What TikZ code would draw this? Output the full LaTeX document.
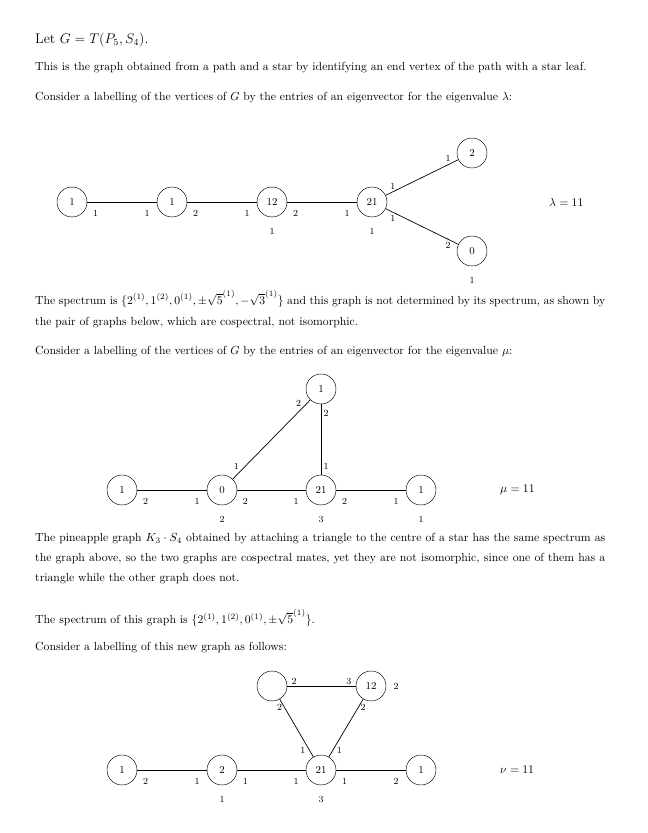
\documentclass[tikz,border=0pt]{standalone}
\usepackage{amsmath,amsfonts,amssymb}
\usepackage{tikz}
\usetikzlibrary{calc}
\tikzset{vertex/.style={circle,draw,minimum size=0.9cm,inner sep=0pt,font=\small}}
\tikzset{edge/.style={semithick, solid}}
\tikzset{elab/.style={font=\footnotesize,inner sep=1pt}}
\tikzset{every label/.style={font=\footnotesize}}
\tikzset{line/.style={anchor=west,inner sep=0pt}}
\tikzset{para/.style={anchor=north west,inner sep=0pt,text width=17.1cm,align=justify,
  execute at begin node={\setlength{\baselineskip}{#1}\setlength{\parindent}{0.6cm}}}}
\tikzset{para/.default=18pt}

\begin{document}
\begin{tikzpicture}[x=0.03cm,y=-0.03cm,label distance=2.2mm]
  \useasboundingbox (0,0) rectangle (648,833);

  \node (title) at (35,40)[line,font=\large]{Let $G = T(P_5, S_4)$.};
  \node (l1) at (35,68)[line]{This is the graph obtained from a path and a star by identifying an end vertex of the path with a star leaf.};
  \node (l2) at (35,98)[line]{Consider a labelling of the vertices of $G$ by the entries of an eigenvector for the eigenvalue $\lambda$:};

  % first graph
  \node (a1) at (72,202)[vertex]{1};
  \node (a2) at (172,202)[vertex]{1};
  \node (a3) at (272,202)[vertex, label=below:{1}]{12};
  \node (a4) at (372,202)[vertex, label=below:{1}]{21};
  \node (a5) at (472,153)[vertex]{2};
  \node (a6) at (472,251)[vertex, label=below:{1}]{0};
  \node (ta) at (549,202)[line]{$\lambda=11$};

  \draw[edge] (a1) -- (a2) node[elab,pos=.12,below=2mm]{1} node[elab,pos=.86,below=2mm]{1};
  \draw[edge] (a2) -- (a3) node[elab,pos=.12,below=2mm]{2} node[elab,pos=.86,below=2mm]{1};
  \draw[edge] (a3) -- (a4) node[elab,pos=.12,below=2mm]{2} node[elab,pos=.86,below=2mm]{1};
  \draw[edge] (a4) -- (a5) node[elab,pos=.1,above=1pt]{1} node[elab,pos=.86,above=1pt]{1};
  \draw[edge] (a4) -- (a6) node[elab,pos=.1,below=1pt]{1} node[elab,pos=.86,below=1pt]{2};

  \node (p2) at (35,290)[para]{\noindent The spectrum is $\{2^{(1)}, 1^{(2)}, 0^{(1)}, \pm\sqrt{5}^{(1)}, -\sqrt{3}^{(1)}\}$ and this graph is not determined by its spectrum, as shown by the pair of graphs below, which are cospectral, not isomorphic.};
  \node (l3) at (35,352)[line]{Consider a labelling of the vertices of $G$ by the entries of an eigenvector for the eigenvalue $\mu$:};

  % second graph
  \node (b1) at (122,490)[vertex]{1};
  \node (b2) at (222,490)[vertex, label=below:{2}]{0};
  \node (b3) at (321,490)[vertex, label=below:{3}]{21};
  \node (b4) at (421,490)[vertex, label=below:{1}]{1};
  \node (b5) at (321,389)[vertex]{1};
  \node (tb) at (500,490)[line]{$\mu=11$};

  \draw[edge] (b1) -- (b2) node[elab,pos=.12,below=2mm]{2} node[elab,pos=.86,below=2mm]{1};
  \draw[edge] (b2) -- (b3) node[elab,pos=.12,below=2mm]{2} node[elab,pos=.86,below=2mm]{1};
  \draw[edge] (b3) -- (b4) node[elab,pos=.12,below=2mm]{2} node[elab,pos=.86,below=2mm]{1};
  \draw[edge] (b2) -- (b5) node[elab,pos=.1,above left]{1} node[elab,pos=.9,above left]{2};
  \draw[edge] (b3) -- (b5) node[elab,pos=.12,right=1pt]{1} node[elab,pos=.87,right=1pt]{2};

  \node (p3) at (35,533)[para=17pt]{The pineapple graph $K_3\cdot S_4$ obtained by attaching a triangle to the centre of a star has the same spectrum as the graph above, so the two graphs are cospectral mates, yet they are not isomorphic, since one of them has a triangle while the other graph does not.};
  \node (l4) at (35,618)[line]{The spectrum of this graph is $\{2^{(1)}, 1^{(2)}, 0^{(1)}, \pm\sqrt{5}^{(1)}\}$.};
  \node (l5) at (35,648)[line]{Consider a labelling of this new graph as follows:};

  % third graph
  \node (c1) at (122,770)[vertex]{1};
  \node (c2) at (222,770)[vertex, label=below:{1}]{2};
  \node (c3) at (321,770)[vertex, label=below:{3}]{21};
  \node (c4) at (421,770)[vertex]{1};
  \node (c5) at (272,686)[vertex]{};
  \node (c6) at (371,686)[vertex, label={[label distance=1mm]right:{2}}]{12};
  \node (tc) at (500,770)[line]{$\nu=11$};

  \draw[edge] (c1) -- (c2) node[elab,pos=.12,below=2mm]{2} node[elab,pos=.86,below=2mm]{1};
  \draw[edge] (c2) -- (c3) node[elab,pos=.12,below=2mm]{1} node[elab,pos=.86,below=2mm]{1};
  \draw[edge] (c3) -- (c4) node[elab,pos=.12,below=2mm]{1} node[elab,pos=.86,below=2mm]{2};
  \draw[edge] (c5) -- (c6) node[elab,pos=.1,above]{2} node[elab,pos=.9,above]{3};
  \draw[edge] (c5) -- (c3) node[elab,pos=.15,left=1pt]{2} node[elab,pos=.88,left=2pt]{1};
  \draw[edge] (c6) -- (c3) node[elab,pos=.15,right=1pt]{2} node[elab,pos=.88,right=2pt]{1};
\end{tikzpicture}
\end{document}
